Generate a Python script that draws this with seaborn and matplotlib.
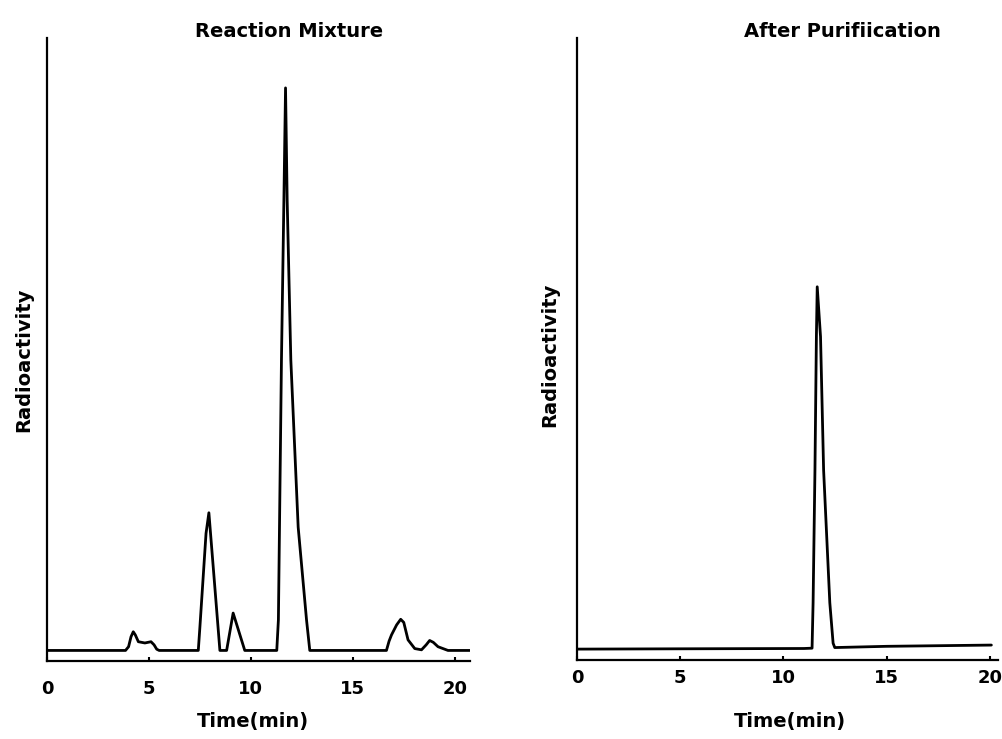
import matplotlib.pyplot as plt
import seaborn as sns
import pandas as pd

# Reaction mixture chromatogram (time in min, radioactivity in arbitrary units)
mix_time = [0.0, 3.85, 4.0, 4.12, 4.23, 4.33, 4.48, 4.8, 5.1, 5.25, 5.38, 5.5,
            7.42, 7.5, 7.8, 7.94, 8.48, 8.81, 9.13, 9.7,
            11.27, 11.35, 11.5, 11.62, 11.7, 11.78, 11.96, 12.32, 12.73, 12.89,
            16.65, 16.78, 16.9, 17.15, 17.35, 17.5, 17.71, 18.04, 18.37,
            18.6, 18.77, 18.95, 19.18, 19.67, 20.74]
mix_signal = [1.7, 1.7, 2.3, 3.9, 4.7, 4.2, 3.1, 2.9, 3.1, 2.6, 1.9, 1.7,
              1.7, 5.5, 20.5, 23.8, 1.7, 1.7, 7.7, 1.7,
              1.7, 6.6, 48.3, 74.0, 92.0, 74.0, 48.3, 21.5, 6.6, 1.7,
              1.7, 3.2, 4.2, 5.8, 6.7, 6.2, 3.4, 2.0, 1.8,
              2.6, 3.3, 3.0, 2.3, 1.7, 1.7]

# After purification chromatogram
pur_time = [0.0, 5.0, 11.0, 11.39, 11.44, 11.53, 11.6, 11.64, 11.8, 11.95,
            12.25, 12.41, 12.49, 15.0, 20.08]
pur_signal = [1.75, 1.8, 1.85, 1.9, 9.2, 30.5, 52.0, 60.0, 52.0, 30.5,
              9.2, 2.7, 2.0, 2.2, 2.4]

tick_values = [0, 5, 10, 15, 20]

sns.set_style("ticks")
plt.rcParams['font.family'] = ['DejaVu Sans']
plt.rcParams['text.color'] = 'black'
plt.rcParams['axes.labelcolor'] = 'black'
plt.rcParams['xtick.color'] = 'black'
plt.rcParams['xtick.labelcolor'] = 'black'

fig = plt.figure(figsize=(10.03, 7.39), dpi=100)
ax1 = fig.add_axes([0.0469, 0.1055, 0.4217, 0.843])
ax2 = fig.add_axes([0.5753, 0.1069, 0.4197, 0.8417])

mix_df = pd.DataFrame({'Time': mix_time, 'Radioactivity': mix_signal})
pur_df = pd.DataFrame({'Time': pur_time, 'Radioactivity': pur_signal})

sns.lineplot(data=mix_df, x='Time', y='Radioactivity', ax=ax1,
             color='black', linewidth=2.0, sort=False)
sns.lineplot(data=pur_df, x='Time', y='Radioactivity', ax=ax2,
             color='black', linewidth=2.0, sort=False)

panels = [
    (ax1, 20.75, 'Reaction Mixture', 0.572, 13.5, (0.487, -0.082), (-0.033, 0.483)),
    (ax2, 20.4, 'After Purifiication', 0.63, 6.5, (0.506, -0.0836), (-0.043, 0.49)),
]
for ax, xmax, title, title_x, pad, xlab_pos, ylab_pos in panels:
    ax.set_xlim(0, xmax)
    ax.set_ylim(0, 100)
    ax.set_xticks(tick_values)
    ax.set_yticks([])
    ax.tick_params(axis='x', direction='in', length=3, width=1.5,
                   pad=pad, labelsize=13, colors='black')
    for lbl in ax.get_xticklabels():
        lbl.set_fontweight('bold')
    sns.despine(ax=ax)
    for side in ['left', 'bottom']:
        ax.spines[side].set_linewidth(1.6)
        ax.spines[side].set_color('black')
    ax.set_title(title, x=title_x, y=1.0, pad=1, fontsize=14,
                 fontweight='bold', color='black')
    ax.set_xlabel('Time(min)', fontsize=14, fontweight='bold', color='black')
    ax.set_ylabel('Radioactivity', fontsize=14, fontweight='bold', color='black')
    ax.xaxis.set_label_coords(*xlab_pos)
    ax.yaxis.set_label_coords(*ylab_pos)
    ax.xaxis.label.set_va('top')

fig.savefig('out.png', dpi=100)
